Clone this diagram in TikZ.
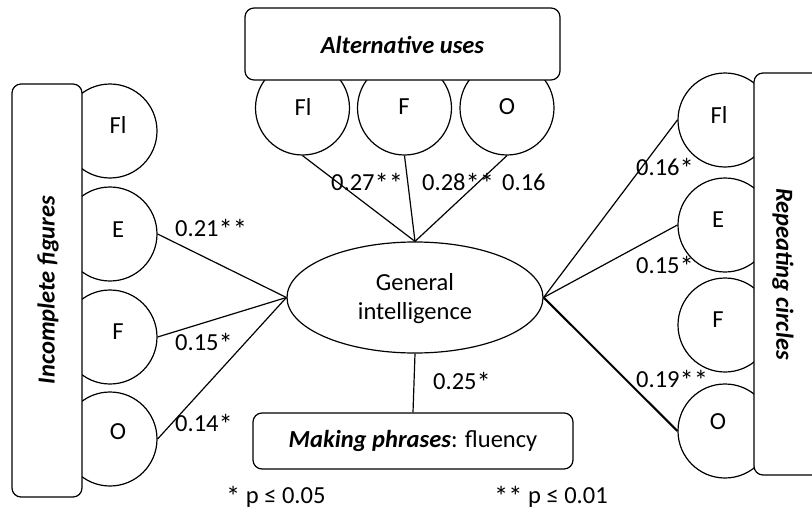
\documentclass[tikz,border=0pt]{standalone}
\usepackage{fontspec}
\setmainfont{Carlito}
\usetikzlibrary{shapes.geometric}
\newcommand\sgn{\raisebox{-3pt}{\fontsize{28.5}{28.5}\selectfont *}}
\begin{document}
\begin{tikzpicture}[x=1pt,y=-1pt,
  every node/.style={font=\fontsize{24.5}{29}\selectfont, inner sep=0pt},
  lw/.style={line width=1.2pt},
  circ/.style={lw, draw, circle, minimum size=94pt, fill=white},
  box/.style={lw, draw, rounded corners=9pt, fill=white},
  conn/.style={lw},
  ttl/.style={font=\fontsize{24.5}{29}\selectfont\bfseries\itshape}]
\useasboundingbox (0,0) rectangle (812,514);
\clip (0,0) rectangle (812,514);
% circles
\node[circ] (lfl) at (110,131) {};
\node[circ] (le)  at (110,234) {};
\node[circ] (lf)  at (110,337) {};
\node[circ] (lo)  at (110,439) {};
\node[circ] (afl) at (302.5,108) {};
\node[circ] (af)  at (404.5,108) {};
\node[circ] (ao)  at (507,108) {};
\node[circ] (rfl) at (725,120) {};
\node[circ] (re)  at (725,225) {};
\node[circ] (rf)  at (725,325) {};
\node[circ] (ro)  at (725,431) {};
% boxes
\node[box, minimum width=70pt, minimum height=413pt] (lbox) at (47,290.5) {};
\node[box, minimum width=315pt, minimum height=72pt] (abox) at (402.5,44) {};
\node[box, minimum width=96pt, minimum height=402pt] (rbox) at (802,274) {};
\node[box, minimum width=320pt, minimum height=56pt] (mp) at (413,441) {\textbf{\textit{Making phrases}}: fluency};
% titles
\node[ttl, rotate=90] (lt) at (48,290) {Incomplete figures};
\node[ttl] (at) at (402.5,45) {Alternative uses};
\node[ttl, rotate=-90] (rt) at (783,274) {Repeating circles};
% ellipse
\node[lw, draw, ellipse, minimum width=256pt, minimum height=111pt, fill=white] (g) at (415,297.5) {};
\node[align=center] (gt) at (415,299) {General\\intelligence};
% circle labels
\node (tlfl) at (118,125) {Fl};
\node (tle)  at (118,229.5) {E};
\node (tlf)  at (118,332) {F};
\node (tlo)  at (118,432) {O};
\node (tafl) at (303,106.5) {Fl};
\node (taf)  at (404,106.5) {F};
\node (tao)  at (507,106.5) {O};
\node (trfl) at (719,115) {Fl};
\node (tre)  at (718,219.5) {E};
\node (trf)  at (718,320) {F};
\node (tro)  at (718,422) {O};
% connectors
\draw[conn] (g.west) -- (le.east);
\draw[conn] (g.west) -- (lf.east);
\draw[conn] (g.west) -- (lo.east);
\draw[conn] (g.north) -- (afl.south);
\draw[conn] (g.north) -- (af.south);
\draw[conn] (g.north) -- (ao.south);
\draw[conn] (g.east) -- (rfl.west);
\draw[conn] (g.east) -- (re.west);
\draw[line width=2pt] (g.east) -- (ro.west);
\draw[conn] (g.south) -- (mp.north);
% coefficients
\node[anchor=base west] (c1) at (331,190) {0.27\sgn\sgn};
\node[anchor=base west] (c2) at (422,190) {0.28\sgn\sgn};
\node[anchor=base west] (c3) at (502,190) {0.16};
\node[anchor=base west] (c4) at (175,236) {0.21\sgn\sgn};
\node[anchor=base west] (c5) at (175,350) {0.15\sgn};
\node[anchor=base west] (c6) at (175,431) {0.14\sgn};
\node[anchor=base west] (c7) at (636,175) {0.16\sgn};
\node[anchor=base west] (c8) at (636,273) {0.15\sgn};
\node[anchor=base west] (c9) at (636,387) {0.19\sgn\sgn};
\node[anchor=base west] (c10) at (433,389) {0.25\sgn};
% notes
\node[anchor=base west] (n1) at (226,503) {\sgn{} p ≤ 0.05};
\node[anchor=base west] (n2) at (494,503) {\sgn\sgn{} p ≤ 0.01};
\end{tikzpicture}
\end{document}
